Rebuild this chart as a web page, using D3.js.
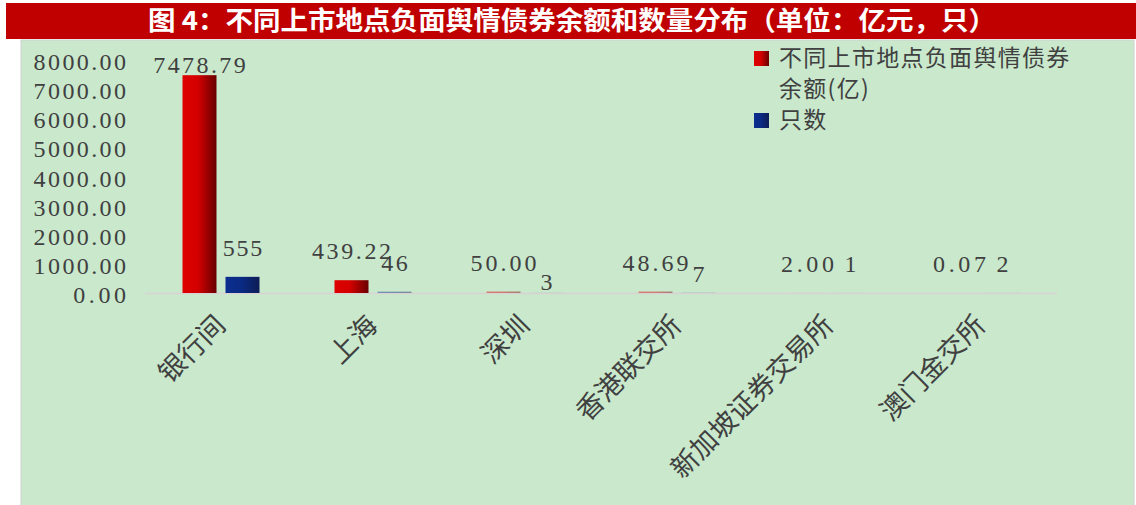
<!DOCTYPE html>
<html><head><meta charset="utf-8">
<script src="https://cdn.jsdelivr.net/npm/d3@7/dist/d3.min.js"></script>
<style>html,body{margin:0;padding:0;background:#fff;}svg{display:block;}</style>
</head><body>
<svg id="c" width="1136" height="505"></svg>
<script>
// ---- data ----
const title = "图 4：不同上市地点负面舆情债券余额和数量分布（单位：亿元，只）";
const categories = ["银行间", "上海", "深圳", "香港联交所", "新加坡证券交易所", "澳门金交所"];
const seriesNames = ["不同上市地点负面舆情债券余额(亿)", "只数"];
const amountValues = [7478.79, 439.22, 50.00, 48.69, 2.00, 0.07];
const countValues = [555, 46, 3, 7, 1, 2];
const yTicks = [0, 1000, 2000, 3000, 4000, 5000, 6000, 7000, 8000];

// ---- layout ----
const svg = d3.select("#c");
const textColor = "#404040";
const numFont = "'Liberation Serif', 'DejaVu Serif', serif";
const cjkFont = "'Noto Sans CJK SC', 'Noto Sans', sans-serif";
const charW = 13.2;

const defs = svg.append("defs");
const gR = defs.append("linearGradient").attr("id", "gRed").attr("x1", "0").attr("x2", "1").attr("y1", "0").attr("y2", "0");
gR.append("stop").attr("offset", "0").attr("stop-color", "#de0000");
gR.append("stop").attr("offset", "0.45").attr("stop-color", "#d40000");
gR.append("stop").attr("offset", "1").attr("stop-color", "#680000");
const gB = defs.append("linearGradient").attr("id", "gBlue").attr("x1", "0").attr("x2", "1").attr("y1", "0").attr("y2", "0");
gB.append("stop").attr("offset", "0").attr("stop-color", "#0b2e8e");
gB.append("stop").attr("offset", "0.45").attr("stop-color", "#0a2a84");
gB.append("stop").attr("offset", "1").attr("stop-color", "#0d1d55");

// title bar
svg.append("rect").attr("x", 6).attr("y", 3).attr("width", 1130).attr("height", 36).attr("fill", "#c00000");
svg.append("text").attr("x", 572).attr("y", 30).attr("text-anchor", "middle")
  .attr("fill", "#fff").attr("font-family", cjkFont).attr("font-weight", "bold").attr("font-size", 26)
  .attr("textLength", 848).attr("lengthAdjust", "spacingAndGlyphs").text(title);

// plot background
svg.append("rect").attr("x", 21).attr("y", 40).attr("width", 1113).attr("height", 470)
  .attr("fill", "#c9e8cc").attr("stroke", "#d0d0d0").attr("stroke-width", 1);

const y = d3.scaleLinear().domain([0, 8000]).range([293, 60]);
const x0 = d3.scaleBand().domain(categories).range([145, 1057]).paddingInner(0).paddingOuter(0);
const x1 = d3.scaleBand().domain([0, 1]).range([37.5, 114.5]).paddingInner(0.2093).paddingOuter(0);

// y axis labels
const fmt2 = d3.format(".2f");
const yAxis = svg.append("g");
yAxis.selectAll("text").data(yTicks).join("text")
  .attr("x", 126).attr("y", d => y(d) + 10).attr("text-anchor", "end")
  .attr("font-family", numFont).attr("font-size", 24).attr("fill", textColor)
  .attr("textLength", d => fmt2(d).length * charW).attr("lengthAdjust", "spacing")
  .text(d => fmt2(d));

// baseline
svg.append("line").attr("x1", x0.range()[0]).attr("x2", x0.range()[1])
  .attr("y1", y(0) + 0.5).attr("y2", y(0) + 0.5).attr("stroke", "#d9d2d2").attr("stroke-width", 1.6);

// bars
const rows = categories.map((c, i) => ({ c, i, vals: [amountValues[i], countValues[i]] }));
const fills = ["url(#gRed)", "url(#gBlue)"];
const groups = svg.append("g").selectAll("g").data(rows).join("g")
  .attr("transform", d => `translate(${x0(d.c)},0)`);
groups.selectAll("rect").data(d => d.vals.map((v, k) => ({ v, k }))).join("rect")
  .attr("x", d => x1(d.k)).attr("width", x1.bandwidth())
  .attr("y", d => y(d.v)).attr("height", d => y(0) - y(d.v))
  .attr("fill", d => fills[d.k])
  .attr("opacity", d => (y(0) - y(d.v)) < 2.5 ? 0.45 : 1);

// value labels
const countNudge = [0, 0, 18, 10, 0, 0];
groups.selectAll("text").data(d => d.vals.map((v, k) => ({ v, k, i: d.i }))).join("text")
  .attr("x", d => x1(d.k) + x1.bandwidth() / 2)
  .attr("y", d => d.k === 0 ? Math.max(y(d.v) - 21, 73) : y(d.v) - 21 + countNudge[d.i])
  .attr("text-anchor", "middle").attr("font-family", numFont).attr("font-size", 24).attr("fill", textColor)
  .each(function (d) {
    const s = d.k === 0 ? fmt2(d.v) : String(d.v);
    d3.select(this).text(s);
    if (s.length > 1) d3.select(this).attr("textLength", s.length * charW).attr("lengthAdjust", "spacing");
  });

// x labels
svg.append("g").selectAll("text").data(categories).join("text")
  .attr("transform", d => `translate(${x0(d) + x0.bandwidth() / 2 + 6},327) rotate(-45)`)
  .attr("text-anchor", "end").attr("font-family", cjkFont).attr("font-size", 27).attr("fill", textColor)
  .text(d => d);

// legend
const legend = svg.append("g");
const legendItems = [
  { fill: "url(#gRed)", sy: 51, lines: [seriesNames[0].slice(0, 12), seriesNames[0].slice(12)], ty: 66 },
  { fill: "url(#gBlue)", sy: 113, lines: [seriesNames[1]], ty: 128 }
];
legendItems.forEach(it => {
  legend.append("rect").attr("x", 754).attr("y", it.sy).attr("width", 15).attr("height", 15).attr("fill", it.fill);
  it.lines.forEach((ln, j) => {
    legend.append("text").attr("x", 779).attr("y", it.ty + j * 31)
      .attr("font-family", cjkFont).attr("font-size", 23).attr("fill", textColor)
      .attr("letter-spacing", 1.3).text(ln);
  });
});
</script>
</body></html>
